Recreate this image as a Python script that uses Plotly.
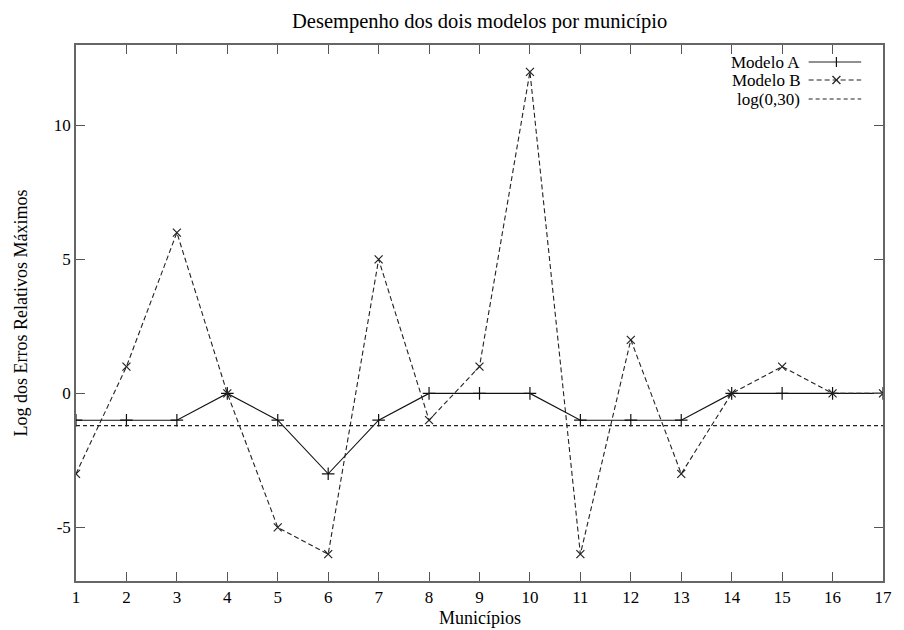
import plotly.graph_objects as go

municipios = list(range(1, 18))
modelo_a = [-1, -1, -1, 0, -1, -3, -1, 0, 0, 0, -1, -1, -1, 0, 0, 0, 0]
modelo_b = [-3, 1, 6, 0, -5, -6, 5, -1, 1, 12, -6, 2, -3, 0, 1, 0, 0]
log_ref = -1.2040  # ln(0.30)
y_tickvals = [-5, 0, 5, 10]
y_ticktext = ["-5", "0", "5", "10"]
legend_names = ["Modelo A", "Modelo B", "log(0,30)"]

FONT = "Liberation Serif, Times New Roman, serif"
L, R, T, B = 76, 890, 45, 581
W, H = 904, 630

def px(x):
    return (x - L) / (R - L)

def py(y):
    return (B - y) / (B - T)

fig = go.Figure()
fig.add_trace(go.Scatter(x=municipios, y=modelo_a, mode="lines+markers",
                         line=dict(color="#111", width=1.1),
                         marker=dict(symbol="cross-thin", size=9, line=dict(color="#111", width=1.2)),
                         name=legend_names[0], showlegend=False))
fig.add_trace(go.Scatter(x=municipios, y=modelo_b, mode="lines+markers",
                         line=dict(color="#222", width=1.1, dash="5px,3px"),
                         marker=dict(symbol="x-thin", size=8, line=dict(color="#222", width=1.2)),
                         name=legend_names[1], showlegend=False))
fig.add_trace(go.Scatter(x=[municipios[0], municipios[-1]], y=[log_ref, log_ref], mode="lines",
                         line=dict(color="#222", width=1.1, dash="4px,3px"),
                         name=legend_names[2], showlegend=False))

# Gnuplot-style legend: text right-aligned, sample on the right
rows = [62, 80, 99]
shapes = []
annotations = []
dashes = ["solid", "5px,3px", "4px,3px"]
for name, ry, d in zip(legend_names, rows, dashes):
    annotations.append(dict(xref="paper", yref="paper", x=px(808), y=py(ry),
                            xanchor="right", yanchor="middle", text=name, showarrow=False,
                            font=dict(family=FONT, size=17, color="#000")))
    shapes.append(dict(type="line", xref="paper", yref="paper", x0=px(815), x1=px(868),
                       y0=py(ry), y1=py(ry), line=dict(color="#222", width=1.1, dash=d)))
# legend marker glyphs
mx = 843
shapes.append(dict(type="line", xref="paper", yref="paper", x0=px(mx), x1=px(mx),
                   y0=py(rows[0] - 5), y1=py(rows[0] + 5), line=dict(color="#111", width=1.2)))
shapes.append(dict(type="line", xref="paper", yref="paper", x0=px(mx - 4), x1=px(mx + 4),
                   y0=py(rows[1] - 4), y1=py(rows[1] + 4), line=dict(color="#222", width=1.2)))
shapes.append(dict(type="line", xref="paper", yref="paper", x0=px(mx - 4), x1=px(mx + 4),
                   y0=py(rows[1] + 4), y1=py(rows[1] - 4), line=dict(color="#222", width=1.2)))

annotations.append(dict(xref="paper", yref="paper", x=px(21), y=py(313), textangle=-90,
                        text="Log dos Erros Relativos Máximos", showarrow=False,
                        xanchor="center", yanchor="middle",
                        font=dict(family=FONT, size=18, color="#000")))
annotations.append(dict(xref="paper", yref="paper", x=px(484), y=py(618),
                        text="Municípios", showarrow=False, xanchor="center", yanchor="middle",
                        font=dict(family=FONT, size=18, color="#000")))
annotations.append(dict(xref="paper", yref="paper", x=px(483), y=py(22),
                        text="Desempenho dos dois modelos por município", showarrow=False,
                        xanchor="center", yanchor="middle",
                        font=dict(family=FONT, size=20.5, color="#000")))

fig.update_layout(
    width=W, height=H,
    margin=dict(l=L, r=W - R, t=T, b=H - B),
    paper_bgcolor="white", plot_bgcolor="white",
    font=dict(family=FONT, size=17, color="#000"),
    showlegend=False,
    shapes=shapes, annotations=annotations,
)
fig.update_xaxes(range=[1, 17], tickvals=municipios, ticks="inside", ticklen=9,
                 tickcolor="#555", tickwidth=1, showline=True, linecolor="#666", linewidth=1.5,
                 mirror="allticks", showgrid=False, zeroline=False,
                 tickfont=dict(family=FONT, size=17, color="#000"))
fig.update_yaxes(range=[-7, 13], tickvals=y_tickvals, ticktext=y_ticktext, ticks="inside",
                 ticklen=9, tickcolor="#555", tickwidth=1, showline=True, linecolor="#666",
                 linewidth=1.5, mirror="allticks", showgrid=False, zeroline=False,
                 tickfont=dict(family=FONT, size=17, color="#000"))

fig.write_html("out.html")
